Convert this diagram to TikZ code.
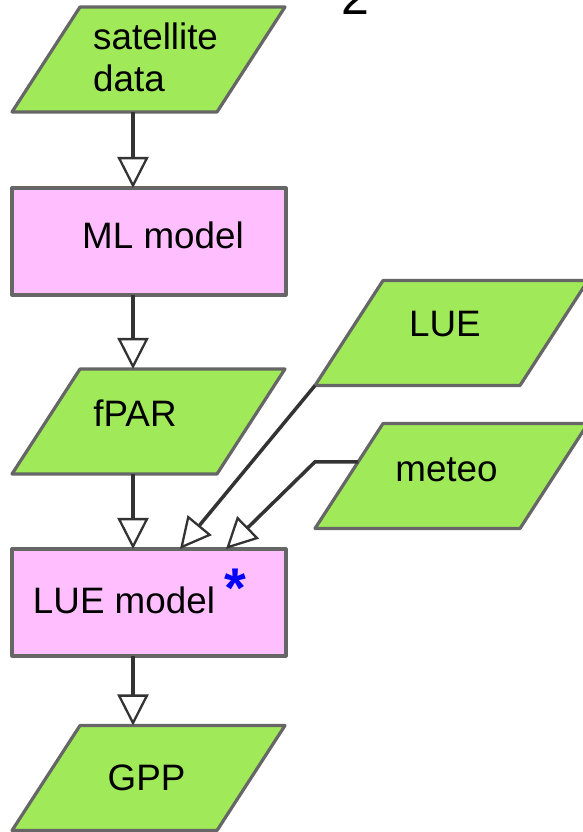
\documentclass[tikz,border=0pt]{standalone}
\usepackage{fontspec}
\setmainfont{Liberation Sans}
\usetikzlibrary{arrows.meta,calc}

\definecolor{datagreen}{RGB}{160,234,90}
\definecolor{procpink}{RGB}{255,191,255}
\definecolor{edgegray}{RGB}{102,102,102}
\definecolor{linkgray}{RGB}{51,51,51}
\definecolor{markblue}{RGB}{0,0,255}

\begin{document}
\begin{tikzpicture}[x=1pt,y=1pt,
  shapebase/.style={draw=edgegray, line width=3.2pt, line join=round,
    inner sep=0pt, outer sep=0pt},
  % data items: slanted boxes (put the shift before this style)
  databox/.style={shapebase, fill=datagreen, minimum width=205pt,
    minimum height=105pt, xslant=0.6476, transform shape},
  procbox/.style={shapebase, fill=procpink, minimum width=274pt,
    minimum height=107pt},
  txt/.style={font=\fontsize{36.8}{42}\selectfont, inner sep=0pt, anchor=base},
  flow/.style={draw=linkgray, line width=3.5pt,
    -{Triangle[length=31pt,width=31pt,fill=white,line width=2.3pt]}}
]
\useasboundingbox (0,0) rectangle (583,832);

% step number
\node[font=\fontsize{50}{56}\selectfont, inner sep=0pt, anchor=base west]
  (stepno) at (341,817) {2};

% main column
\node[shift={(148.5,772.5)}, databox] (sat) {};
\node[procbox] (ml) at (149,590.5) {};
\node[shift={(148.5,410.5)}, databox] (fpar) {};
\node[procbox] (luem) at (149,229.5) {};
\node[shift={(148.5,54)}, databox] (gpp) {};

% side inputs
\node[shift={(451.5,499)}, databox] (lue) {};
\node[shift={(451.5,356)}, databox] (meteo) {};

% labels
\node[txt, anchor=base west, align=left] (sattxt) at (93,740) {satellite\\data};
\node[txt] (mltxt) at (163,583) {ML model};
\node[txt] (fpartxt) at (135,405) {fPAR};
\node[txt] (luemtxt) at (124,218) {LUE model};
\node[font=\fontsize{56}{60}\selectfont\bfseries, text=markblue, inner sep=0pt,
  anchor=base west] (star) at (224,224) {*};
\node[txt] (gpptxt) at (146.5,41) {GPP};
\node[txt] (luetxt) at (445,495) {LUE};
\node[txt] (meteotxt) at (446.5,350) {meteo};

% connectors
\coordinate (axis) at (133,0);
\draw[flow] (sat.south -| axis) -- (ml.north -| axis);
\draw[flow] (ml.south -| axis) -- (fpar.north -| axis);
\draw[flow] (fpar.south -| axis) -- (luem.north -| axis);
\draw[flow] (luem.south -| axis) -- (gpp.north -| axis);
\draw[flow] (lue.south west) -- ($(luem.north west)!0.613!(luem.north east)$);
\coordinate (mstart) at ($(meteo.north west)!0.365!(meteo.south west)$);
\draw[flow] (mstart) -- (meteo.south west |- mstart)
  -- ($(luem.north west)!0.781!(luem.north east)$);
\end{tikzpicture}
\end{document}
